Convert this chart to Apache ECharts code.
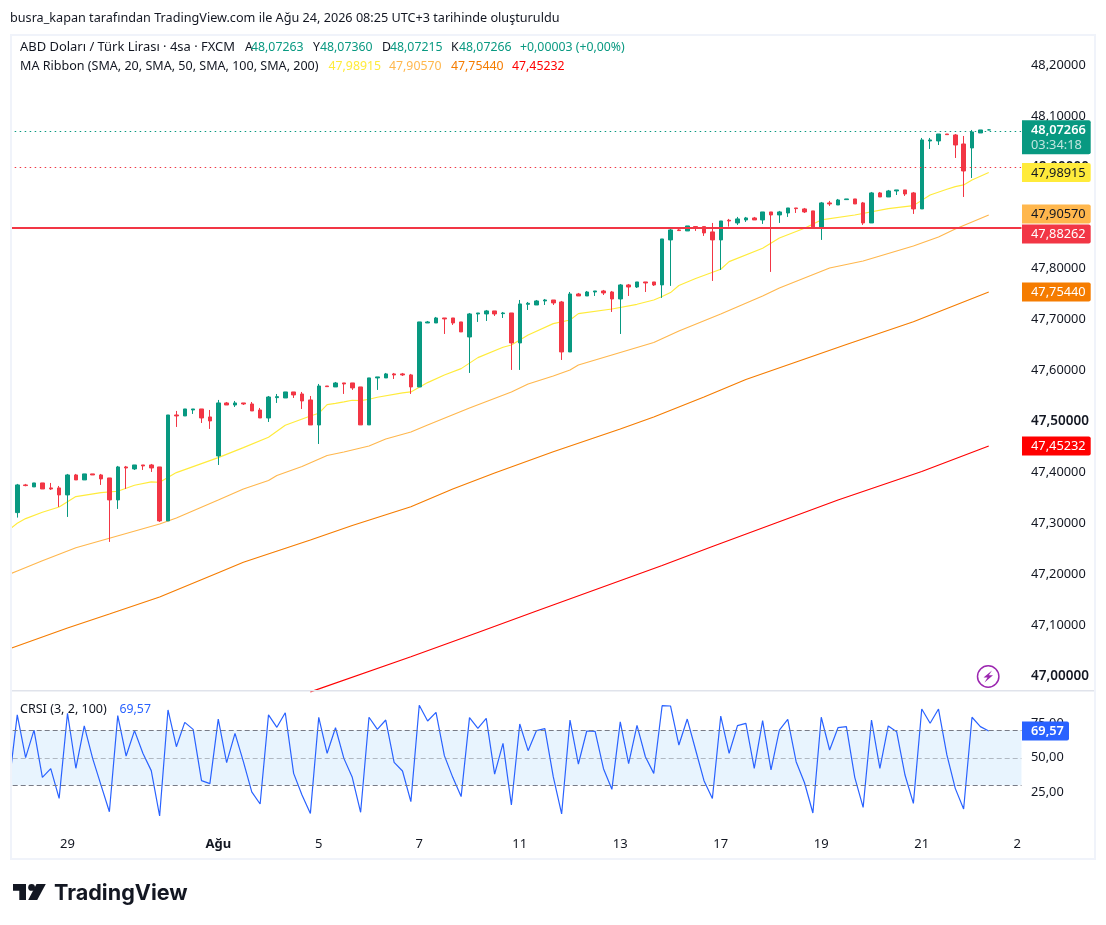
<!DOCTYPE html>
<html>
<head>
<meta charset="utf-8">
<style>html,body{margin:0;padding:0;background:#fff}#c{width:1106px;height:925px}</style>
<script src="https://cdn.jsdelivr.net/npm/echarts@6/dist/echarts.min.js"></script>
</head>
<body>
<div id="c"></div>
<script>
// first bar in the arrays is bar -7 counted from the "29" day tick
const firstBar = -7;
const lastAxisBar = 114;
const dayTickBars = [0, 18, 30, 42, 54, 66, 78, 90, 102, 114];
const dayTickTexts = ['29', 'Ağu', '5', '7', '11', '13', '17', '19', '21', '2'];

// [open, close, low, high]
const candles = [
[47.3483,47.3215,47.3215,47.3483],
[47.3215,47.3758,47.3117,47.3778],[47.3758,47.3745,47.3732,47.3778],[47.3719,47.3797,47.3719,47.3797],[47.3797,47.3679,47.3679,47.3797],
[47.3699,47.3679,47.366,47.3797],[47.3699,47.3562,47.3326,47.3738],[47.3562,47.3954,47.313,47.3974],[47.3954,47.3856,47.3856,47.3974],
[47.3856,47.3974,47.3856,47.3974],[47.3974,47.3954,47.3954,47.3974],[47.3954,47.3876,47.3758,47.3974],[47.3895,47.3464,47.264,47.3895],
[47.3464,47.4111,47.3287,47.4131],[47.4111,47.4091,47.3679,47.4131],[47.4072,47.415,47.4052,47.415],[47.415,47.4131,47.4052,47.415],
[47.415,47.4091,47.4013,47.417],[47.4111,47.3052,47.3032,47.4111],[47.3052,47.5131,47.3052,47.5131],[47.5131,47.5112,47.4896,47.521],
[47.5112,47.5249,47.5112,47.5249],[47.5229,47.5249,47.5151,47.5249],[47.5249,47.5072,47.4974,47.5249],[47.5092,47.5014,47.4857,47.5229],
[47.4327,47.5367,47.415,47.5426],[47.5367,47.5327,47.5327,47.5386],[47.5327,47.5367,47.5288,47.5406],[47.5367,47.5347,47.5327,47.5367],
[47.5347,47.521,47.521,47.5386],[47.5229,47.5072,47.5072,47.5269],[47.5072,47.5484,47.4994,47.5504],[47.5471,47.5491,47.5367,47.5543],
[47.5465,47.5583,47.5465,47.5583],[47.5583,47.5524,47.5465,47.5583],[47.5543,47.5406,47.5249,47.5583],[47.5426,47.4935,47.4935,47.5504],
[47.4935,47.57,47.4562,47.574],[47.57,47.5687,47.5687,47.57],[47.5681,47.5759,47.5681,47.5779],
[47.576,47.574,47.5544,47.576],[47.576,47.5662,47.5623,47.576],[47.5681,47.4936,47.4936,47.5681],[47.4936,47.5858,47.4936,47.5858],
[47.5858,47.5878,47.5623,47.5878],[47.5858,47.5937,47.5858,47.5956],[47.5937,47.5917,47.5838,47.5956],[47.5937,47.5917,47.5897,47.5956],
[47.5917,47.5681,47.5544,47.5937],[47.5681,47.6957,47.5681,47.6957],[47.6937,47.6957,47.6937,47.6976],[47.6937,47.7035,47.6937,47.7055],
[47.7035,47.7016,47.6721,47.7035],[47.7035,47.6937,47.6898,47.7035],[47.6957,47.6761,47.6761,47.6957],[47.6662,47.7114,47.5956,47.7133],
[47.7114,47.7133,47.6957,47.7133],[47.7114,47.7173,47.6976,47.7192],[47.7173,47.7114,47.7074,47.7173],[47.712,47.7133,47.7035,47.7153],
[47.7133,47.6545,47.6015,47.7133],[47.6545,47.731,47.6015,47.7388],[47.7303,47.7323,47.7192,47.7349],[47.729,47.7369,47.729,47.7388],
[47.7369,47.7388,47.729,47.7408],[47.7388,47.733,47.729,47.7388],[47.7349,47.6368,47.6211,47.7369],[47.6368,47.7506,47.6368,47.7545],
[47.7506,47.7467,47.7467,47.7526],[47.7467,47.7545,47.7467,47.7565],[47.7545,47.7565,47.7467,47.7565],[47.7565,47.7526,47.7486,47.7585],
[47.7545,47.7408,47.7153,47.7565],[47.7408,47.7683,47.6721,47.7702],[47.7683,47.7643,47.7467,47.7702],[47.7643,47.7742,47.7624,47.7742],
[47.7742,47.7722,47.7545,47.7742],[47.7742,47.7683,47.7663,47.7742],
[47.7684,47.8586,47.7429,47.8586],[47.8567,47.8763,47.7664,47.8815],[47.8763,47.875,47.875,47.8815],[47.8743,47.8841,47.8743,47.8841],
[47.8828,47.8815,47.8743,47.8828],[47.8828,47.8704,47.8645,47.8828],[47.8724,47.8567,47.7762,47.89],[47.8567,47.8939,47.7978,47.8939],
[47.8953,47.8939,47.8828,47.8979],[47.89,47.8979,47.8861,47.9018],[47.8959,47.8998,47.892,47.9018],[47.8998,47.8959,47.8959,47.9018],
[47.8959,47.9116,47.8881,47.9116],[47.9116,47.9057,47.7939,47.9116],[47.9057,47.9116,47.89,47.9136],[47.9096,47.9194,47.9018,47.9194],
[47.9194,47.9181,47.9096,47.9194],[47.9175,47.9116,47.9096,47.9194],[47.9136,47.8822,47.8822,47.9136],[47.8822,47.9293,47.8567,47.9312],
[47.9293,47.9273,47.9234,47.9332],[47.9253,47.9351,47.9253,47.9371],[47.9358,47.9371,47.9358,47.9371],[47.9371,47.9273,47.9273,47.9371],
[47.9293,47.89,47.8861,47.9312],[47.89,47.9489,47.89,47.9508],[47.9489,47.941,47.941,47.9508],[47.941,47.9528,47.941,47.9548],
[47.9528,47.9548,47.9449,47.9548],[47.9548,47.9469,47.943,47.9548],[47.9489,47.9175,47.9077,47.9508],[47.9175,48.0529,47.9175,48.0568],
[48.0509,48.0529,48.0352,48.0568],[48.0509,48.0646,48.043,48.0646],[48.0646,48.0633,48.0633,48.0646],[48.0627,48.043,48.0175,48.0646],
[48.045,47.992,47.941,48.0607],[48.0372,48.0686,47.9783,48.0725],[48.0666,48.0725,48.0666,48.0725],[48.07263,48.07266,48.07215,48.0736]
];

// moving averages, read at the listed bars: [bar, value]
const ma20 = [[-7,47.2875],[-6,47.3006],[-5,47.3097],[-3,47.3222],[-1,47.3326],[1,47.3529],[4,47.3607],[6,47.3634],[8,47.3751],[10,47.3817],[11,47.381],[13,47.4],[18,47.4294],[21,47.449],[24,47.4693],[26,47.4929],[29,47.5112],[30,47.5164],[31,47.5334],[32,47.536],[33,47.5387],[34,47.542],[35,47.5413],[36,47.5439],[37,47.5479],[40,47.5564],[41,47.5583],[43,47.5766],[45,47.5917],[47,47.6041],[49,47.6257],[52,47.646],[53,47.6505],[55,47.6702],[58,47.6924],[60,47.6996],[61,47.712],[65,47.7212],[68,47.7303],[70,47.7388],[71,47.7455],[72,47.7533],[73,47.7671],[75,47.7808],[78,47.7991],[79,47.8141],[83,47.8403],[85,47.8606],[88,47.8795],[90,47.8959],[94,47.9057],[98,47.9181],[101,47.924],[103,47.9449],[105,47.9561],[106,47.9613],[107,47.9646],[108,47.9744],[110,47.98915]];
const ma50 = [[-7,47.2002],[-6,47.2069],[-3,47.2271],[1,47.2524],[5,47.2711],[11,47.2991],[13,47.3109],[18,47.3462],[21,47.3678],[24,47.3845],[25,47.3943],[28,47.412],[31,47.4336],[33,47.4404],[36,47.4522],[38,47.466],[41,47.4797],[43,47.4934],[48,47.5268],[53,47.5582],[55,47.5739],[58,47.5896],[60,47.6014],[61,47.6112],[65,47.6308],[70,47.6554],[73,47.6779],[78,47.7113],[83,47.7466],[85,47.7623],[91,47.8016],[95,47.8153],[101,47.8448],[104,47.8624],[106,47.8781],[110,47.9057]];
const ma100 = [[-7,47.0538],[0,47.095],[5,47.1225],[11,47.1558],[18,47.2035],[21,47.2239],[29,47.2677],[34,47.2962],[41,47.3331],[46,47.3678],[51,47.3992],[58,47.441],[66,47.4856],[70,47.5091],[76,47.5484],[81,47.5827],[87,47.6171],[93,47.6514],[101,47.6962],[110,47.7544]];
const ma200 = [[29,46.9696],[41,47.0387],[49,47.0862],[56,47.1284],[71,47.2177],[77,47.255],[92,47.3462],[102,47.4022],[110,47.45232]];

const crsi = [30.2,81.2,50.1,70.2,35.8,42.1,20.5,82.4,42.4,73.2,49.6,30.2,10.8,80.7,51.3,69.8,53.3,40.7,7.7,84.8,58.1,75.8,70.7,33.4,31.2,78.2,46.5,67.8,47.2,25.2,16.4,81.2,72.2,82.8,38.7,23.0,9.6,79.5,53.3,71.9,49.6,35.8,10.4,79.5,70.7,77.5,46.7,40.4,18.1,88.2,76.8,83.1,51.6,35.8,21.8,79.2,71.5,78.7,38.2,60.5,15.7,74.6,55.2,69.8,71.2,36.3,9.2,77.5,45.5,69.5,69.3,42.1,27.1,76.1,45.8,73.6,50.8,38.7,87.9,87.7,59.3,78.2,55.7,33.4,20.5,80.4,53.3,73.4,75.1,42.4,77.0,41.2,70.2,78.0,47.2,31.9,9.9,79.5,55.7,71.9,72.7,35.8,14.0,77.5,42.4,73.2,69.0,37.5,16.9,85.5,75.1,85.5,52.1,27.8,12.8,79.5,72.7,69.57];

const lastPrice = 48.07266;
const redDotted = 47.9952;
const redLevel = 47.88262;
const crsiUpper = 70, crsiMid = 50, crsiLower = 30;
const ohlcText = ['48,07263', '48,07360', '48,07215', '48,07266'];
const maText = ['47,98915', '47,90570', '47,75440', '47,45232'];

const FONT = '"Noto Sans", sans-serif';
const GREEN = '#089981', RED = '#f23645', INK = '#131722';

const cats = [];
for (let n = firstBar; n <= lastAxisBar; n++) cats.push(String(n));
const toPoints = arr => arr.map(p => [p[0] - firstBar, p[1]]);
const comma = (v, d) => v.toFixed(d).replace('.', ',');

const maLine = (name, data, color) => ({
  name, type: 'line', xAxisIndex: 0, yAxisIndex: 0, data: toPoints(data),
  showSymbol: false, symbol: 'none', smooth: false, silent: true, z: 2,
  lineStyle: { color, width: 1.15 }
});

const chart = echarts.init(document.getElementById('c'), null, { renderer: 'canvas' });
const BAND = 8.375;
const gridLeft = 67.5 - BAND * (0.5 - firstBar);
const gridW = BAND * cats.length;

const dashed = (v, color) => ({ yAxis: v, lineStyle: { color, type: [5, 3], width: 1 } });

chart.setOption({
  animation: false,
  backgroundColor: '#ffffff',
  textStyle: { fontFamily: FONT },
  grid: [
    { left: gridLeft, width: gridW, top: 14.05, height: 713.3, containLabel: false },
    { left: gridLeft, width: gridW, top: 689.08, height: 137.5, containLabel: false }
  ],
  xAxis: [
    { type: 'category', gridIndex: 0, data: cats, boundaryGap: true, axisLine: { show: false }, axisTick: { show: false }, axisLabel: { show: false }, splitLine: { show: false } },
    { type: 'category', gridIndex: 1, data: cats, boundaryGap: true, axisLine: { show: false }, axisTick: { show: false }, splitLine: { show: false },
      axisLabel: {
        show: true, margin: 11, fontSize: 13, color: INK, fontFamily: FONT, hideOverlap: false,
        interval: (i) => dayTickBars.includes(i + firstBar),
        formatter: (val) => {
          const k = dayTickBars.indexOf(Number(val));
          if (k < 0) return '';
          const t = dayTickTexts[k];
          if (t === 'Ağu') return '{b|' + t + '}';
          if (Number(val) === lastAxisBar) return '{r|' + t + '}';
          return t;
        },
        rich: { b: { fontWeight: 700, fontSize: 13, color: INK, fontFamily: FONT }, r: { padding: [0, 10, 0, 0], fontSize: 13, color: INK, fontFamily: FONT } }
      } }
  ],
  yAxis: [
    { type: 'value', gridIndex: 0, position: 'right', min: 46.9, max: 48.3, interval: 0.1, scale: true,
      axisLine: { show: false }, axisTick: { show: false }, splitLine: { show: false },
      axisLabel: {
        margin: 4.6, fontSize: 12.8, color: INK, fontFamily: FONT, showMinLabel: true, showMaxLabel: true,
        formatter: (v) => {
          const r = Math.round(v * 10) / 10;
          if (r < 47 || r > 48.2) return '';
          const s = comma(r, 5);
          return (r === 47 || r === 47.5 || r === 48) ? '{b|' + s + '}' : s;
        },
        rich: { b: { fontWeight: 600, fontSize: 13.5, color: INK, fontFamily: FONT } }
      } },
    { type: 'value', gridIndex: 1, position: 'right', min: 0, max: 100, interval: 25,
      axisLine: { show: false }, axisTick: { show: false }, splitLine: { show: false },
      axisLabel: {
        margin: 4.6, fontSize: 12.8, color: INK, fontFamily: FONT,
        formatter: (v) => (v === 0 || v === 100) ? '' : comma(v, 2)
      } }
  ],
  series: [
    maLine('MA20', ma20, '#ffeb3b'),
    maLine('MA50', ma50, '#ffb74d'),
    maLine('MA100', ma100, '#f57c00'),
    maLine('MA200', ma200, '#ff0000'),
    {
      name: 'USDTRY', type: 'candlestick', xAxisIndex: 0, yAxisIndex: 0, data: candles, barWidth: 4, z: 3, silent: true,
      itemStyle: { color: GREEN, color0: RED, borderColor: GREEN, borderColor0: RED, borderWidth: 1 },
      markLine: {
        silent: true, symbol: 'none', animation: false, label: { show: false },
        data: [
          { yAxis: lastPrice, lineStyle: { color: GREEN, type: [1.5, 3.5], width: 1.2 } },
          { yAxis: redDotted, lineStyle: { color: RED, type: [1.5, 3.5], width: 1.2 } },
          { yAxis: redLevel, lineStyle: { color: RED, type: 'solid', width: 2 } }
        ]
      }
    },
    {
      name: 'CRSI', type: 'line', xAxisIndex: 1, yAxisIndex: 1, data: crsi, showSymbol: false, symbol: 'none', silent: true, z: 3,
      lineStyle: { color: '#2962ff', width: 1.2 },
      markArea: { silent: true, itemStyle: { color: 'rgba(33,150,243,0.1)' }, data: [[{ yAxis: crsiUpper }, { yAxis: crsiLower }]] },
      markLine: {
        silent: true, symbol: 'none', animation: false, label: { show: false },
        data: [dashed(crsiUpper, '#787b86'), dashed(crsiMid, 'rgba(120,123,134,0.5)'), dashed(crsiLower, '#787b86')]
      }
    }
  ]
});

// overlay: frame, texts and price tags. Tags take their height from the axes.
const y0 = v => chart.convertToPixel({ yAxisIndex: 0 }, v);
const y1 = v => chart.convertToPixel({ yAxisIndex: 1 }, v);
const g = [];
const rect = (x, y, w, h, fill, z, r) => g.push({ type: 'rect', silent: true, z, shape: { x, y, width: w, height: h, r: r || 0 }, style: { fill } });
const text = (t, x, y, fill, size, opts) => g.push({ type: 'text', silent: true, z: (opts && opts.z) || 60, x, y,
  style: { text: t, fill, font: ((opts && opts.weight) || 'normal') + ' ' + size + 'px ' + FONT, textAlign: (opts && opts.align) || 'left', textVerticalAlign: 'middle', opacity: (opts && opts.opacity) || 1 } });

// page covers outside the panes
rect(0, 0, 10, 925, '#ffffff', 40);
rect(1021.5, 36, 6, 792, '#ffffff', 40);
rect(0, 0, 1106, 34, '#ffffff', 40);
// frame
const FR = '#f0f3fa';
rect(10, 34, 2, 826, FR, 41);
rect(10, 34, 1086, 2, FR, 41);
rect(1094, 34, 2, 826, FR, 41);
rect(10, 858, 1086, 2, FR, 41);
rect(12, 690, 1082, 1.6, '#e0e3eb', 41);

// top caption
text('busra_kapan tarafından TradingView.com ile Ağu 24, 2026 08:25 UTC+3 tarihinde oluşturuldu', 10, 18, '#131722', 12.65);

// legend rows
const L1 = 47, L2 = 66.5, LS = 12.3;
text('ABD Doları / Türk Lirası · 4sa · FXCM', 20, L1, INK, 12.95);
[['A', 245, 251], ['Y', 313, 320], ['D', 382, 390], ['K', 451, 459]].forEach((o, i) => {
  text(o[0], o[1], L1, INK, LS);
  text(ohlcText[i], o[2], L1, GREEN, LS);
});
text('+0,00003 (+0,00%)', 520, L1, GREEN, LS);
text('MA Ribbon (SMA, 20, SMA, 50, SMA, 100, SMA, 200)', 20, L2, INK, 12.55);
[[328.5, '#ffeb3b'], [389, '#ffb74d'], [451, '#f57c00'], [512, '#ff0000']].forEach((o, i) => text(maText[i], o[0], L2, o[1], LS));

// CRSI legend
text('CRSI (3, 2, 100)', 20, 709.5, INK, 12.55);
text(comma(crsi[crsi.length - 1], 2), 119.5, 709.5, '#2962ff', LS);

// price tags
const TX = 1022, TW = 68.7, TH = 19;
const tag = (cy, h, fill) => rect(TX, cy - h / 2, TW, h, fill, 50, [0, 2, 2, 0]);
const tagText = (s, cy, fill, o) => text(s, 1031, cy + 0.8, fill, 12.8, o || {});

const lastY = y0(lastPrice);
tag(lastY + 7.3, 34, GREEN);
tagText(comma(lastPrice, 5), lastY, '#ffffff', { weight: 600 });
tagText('03:34:18', lastY + 15, '#ffffff', { opacity: 0.75 });

[[47.98915, '#ffeb3b', '#131722', 0], [47.9057, '#ffb74d', '#131722', -1], [redLevel, RED, '#ffffff', 7.3], [47.7544, '#f57c00', '#ffffff', 0], [47.45232, '#ff0000', '#ffffff', 0]].forEach(d => {
  const cy = y0(d[0]) + d[3];
  tag(cy, TH, d[1]);
  tagText(comma(d[0], 5), cy, d[2]);
});

// CRSI tag
const cy2 = y1(crsi[crsi.length - 1]);
rect(TX, cy2 - TH / 2, 47, TH, '#2962ff', 50, [0, 2, 2, 0]);
text(comma(crsi[crsi.length - 1], 2), 1031, cy2 + 0.8, '#ffffff', 12.8, { weight: 600 });

// lightning badge
g.push({ type: 'circle', silent: true, z: 60, shape: { cx: 988.2, cy: 676.5, r: 10.7 }, style: { fill: '#ffffff', stroke: '#9c27b0', lineWidth: 1.5 } });
g.push({ type: 'polygon', silent: true, z: 61, shape: { points: [[992, 670.5], [983.5, 677.5], [987.5, 677.5], [984.5, 682.5], [993, 675.3], [988.8, 675.3]] }, style: { fill: '#9c27b0' } });

// TradingView wordmark
const LOGO = '#131722';
g.push({ type: 'polygon', silent: true, z: 60, shape: { points: [[13, 884], [26, 884], [26, 900], [19.3, 900], [19.3, 890.7], [13, 890.7]] }, style: { fill: LOGO } });
g.push({ type: 'circle', silent: true, z: 60, shape: { cx: 31.6, cy: 887.4, r: 3.4 }, style: { fill: LOGO } });
g.push({ type: 'polygon', silent: true, z: 60, shape: { points: [[36.5, 884], [45.8, 884], [37.2, 900], [28.2, 900]] }, style: { fill: LOGO } });
g.push({ type: 'text', silent: true, z: 60, x: 54, y: 893, style: { text: 'TradingView', fill: LOGO, font: '700 21.6px Inter, sans-serif', textAlign: 'left', textVerticalAlign: 'middle' } });

chart.setOption({ graphic: { elements: g } });
</script>
</body>
</html>
